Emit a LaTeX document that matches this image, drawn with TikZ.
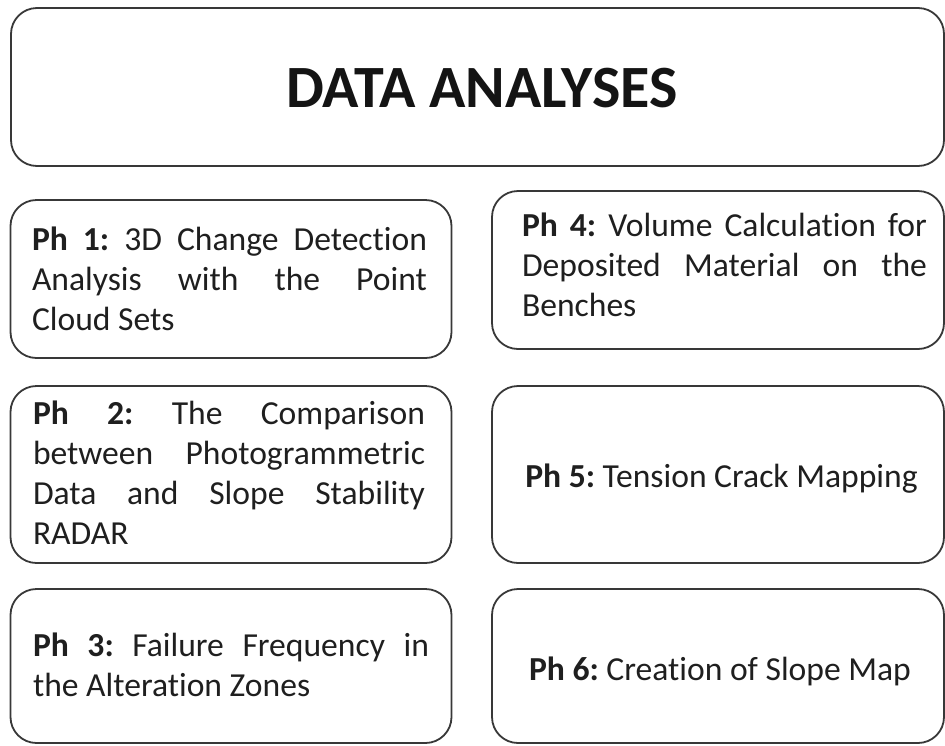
\documentclass[tikz,border=0pt]{standalone}
\usepackage{fontspec}
\setmainfont{Carlito}[Ligatures=NoCommon]
\hyphenpenalty=10000
\exhyphenpenalty=10000
\hbadness=10000
\frenchspacing
\begin{document}
\begin{tikzpicture}[x=1pt,y=-1pt,
  frame/.style={draw=black!78, line width=1.8pt, fill=white, rounded corners=26pt,
    inner sep=0pt},
  bodytext/.style={inner sep=0pt, text=black!88, align=justify,
    font=\fontsize{33.6}{40}\selectfont},
  onetext/.style={inner sep=0pt, text=black!88, anchor=base,
    font=\fontsize{33.6}{40}\selectfont},
  titletext/.style={inner sep=0pt, text=black!92,
    font=\fontsize{60}{70}\selectfont\bfseries}]
\useasboundingbox (0,0) rectangle (945,745);

% outlines
\node[frame, minimum width=933pt, minimum height=158pt] (title) at (477.5,87) {};
\node[frame, minimum width=441pt, minimum height=158pt] (b1) at (231,279) {};
\node[frame, minimum width=441pt, minimum height=177pt] (b2) at (231,474.5) {};
\node[frame, minimum width=441pt, minimum height=154pt] (b3) at (231,666) {};
\node[frame, minimum width=452pt, minimum height=158pt] (b4) at (718,270) {};
\node[frame, minimum width=452pt, minimum height=177pt] (b5) at (718,474.5) {};
\node[frame, minimum width=452pt, minimum height=154pt] (b6) at (718,666) {};

% texts
\node[titletext] (ttl) at (482,88) {DATA ANALYSES};
\node[bodytext, text width=395pt] (t1) at (229.5,279)
  {\textbf{Ph 1:} 3D Change Detection\linebreak Analysis with the Point\linebreak Cloud Sets};
\node[bodytext, text width=392pt] (t2) at (229,473)
  {\textbf{Ph 2:} The Comparison\linebreak between Photogrammetric\linebreak Data and Slope Stability\linebreak RADAR};
\node[bodytext, text width=396pt] (t3) at (231,665)
  {\textbf{Ph 3:} Failure Frequency in\linebreak the Alteration Zones};
\node[bodytext, text width=405pt] (t4) at (724.5,264.5)
  {\textbf{Ph 4:} Volume Calculation for\linebreak Deposited Material on the\linebreak Benches};
\node[onetext] (t5) at (721.5,487) {\textbf{Ph 5:} Tension Crack Mapping};
\node[onetext] (t6) at (720,680) {\textbf{Ph 6:} Creation of Slope Map};
\end{tikzpicture}
\end{document}
